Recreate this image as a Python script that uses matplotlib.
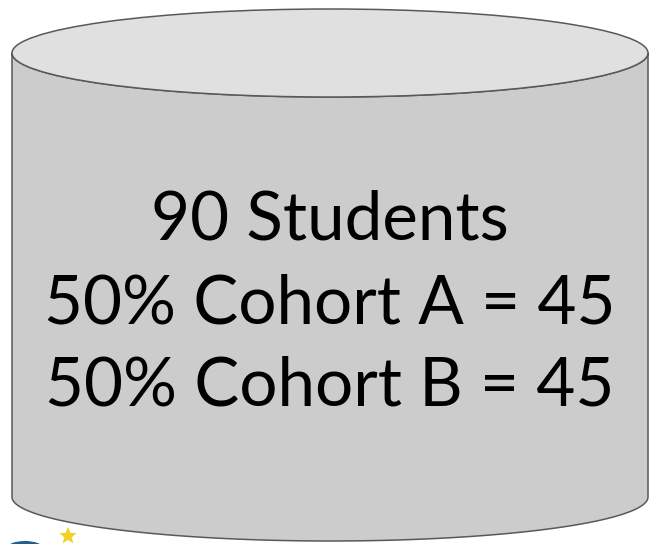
import numpy as np
import matplotlib.pyplot as plt
from matplotlib.patches import Polygon, Ellipse

# text shown on the cylinder
lines = ["90 Students", "50% Cohort A = 45", "50% Cohort B = 45"]
baselines = [240, 323, 405]

# cylinder geometry (pixels)
cx, a = 330, 318
top_y, bot_y, b = 53, 497, 44

fig = plt.figure(figsize=(6.5, 5.44), dpi=100)
ax = fig.add_axes([0, 0, 1, 1])
ax.set_xlim(0, 650)
ax.set_ylim(544, 0)
ax.axis('off')

edge = '#595959'
t = np.linspace(np.pi, 0, 200)
bottom = np.column_stack([cx + a * np.cos(t), bot_y + b * np.sin(t)])
top_lower = np.column_stack([cx + a * np.cos(t[::-1]), top_y + b * np.sin(t[::-1])])
body = np.vstack([[cx - a, top_y], bottom, [cx + a, top_y], top_lower])
ax.add_patch(Polygon(body, closed=True, facecolor='#cccccc', edgecolor=edge, lw=1.1, joinstyle='round'))
ax.add_patch(Ellipse((cx, top_y), 2 * a, 2 * b, facecolor='#e0e0e0', edgecolor=edge, lw=1.1))

for s, y in zip(lines, baselines):
    ax.text(cx, y, s, ha='center', va='baseline', fontsize=48.5, family=['Lato', 'DejaVu Sans'], color='black')

# partial logo in the corner
ax.add_patch(Ellipse((25, 548), 36, 14, facecolor='#1f5f8b', edgecolor='none'))
star = [(68 + r * np.sin(k * np.pi / 5), 536 - r * np.cos(k * np.pi / 5))
        for k, r in zip(range(10), [9, 4] * 5)]
ax.add_patch(Polygon(star, closed=True, facecolor='#f0d12a', edgecolor='none'))

fig.savefig('out.png', dpi=100)
